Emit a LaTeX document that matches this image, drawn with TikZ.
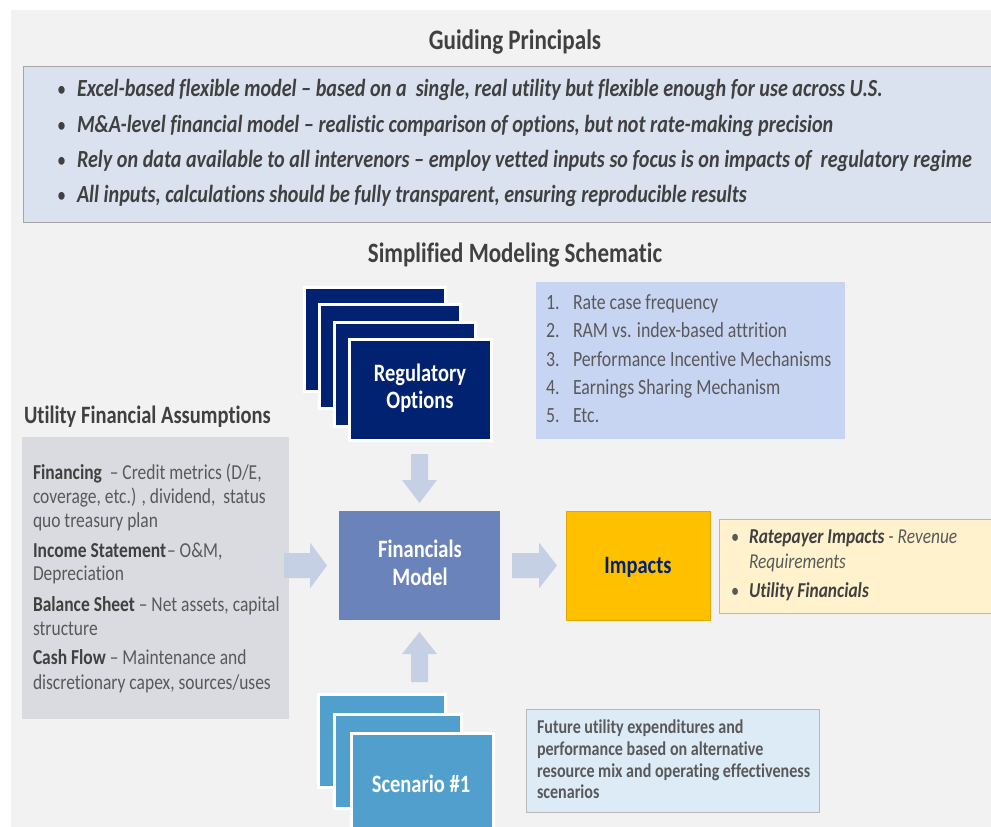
\documentclass[tikz,border=0pt]{standalone}
\usepackage{fontspec}
\setmainfont{Carlito}[FakeStretch=0.82,Ligatures=NoCommon]
\usetikzlibrary{calc}
\definecolor{bgc}{HTML}{F2F2F2}
\definecolor{prinbox}{HTML}{DAE2F0}
\definecolor{boxline}{HTML}{A6A6A6}
\definecolor{txtdark}{HTML}{404040}
\definecolor{txtmid}{HTML}{595959}
\definecolor{navy}{HTML}{002270}
\definecolor{listbox}{HTML}{C7D5F3}
\definecolor{graybox}{HTML}{DADBE0}
\definecolor{arrowc}{HTML}{C5D0E5}
\definecolor{finc}{HTML}{6A83BA}
\definecolor{impc}{HTML}{FFC000}
\definecolor{impline}{HTML}{E0A800}
\definecolor{implist}{HTML}{FFF2CD}
\definecolor{scenc}{HTML}{519FCC}
\definecolor{scendesc}{HTML}{DDEBF7}
\tikzset{
  plainbox/.style={anchor=north west, inner sep=0pt, outer sep=0pt},
  stackcard/.style={anchor=north west, draw=gray!45, line width=0.4pt, double=white, double distance=2.6pt},
  blockarrow/.style={fill=arrowc, draw=none},
  txt/.style={anchor=base west, inner sep=0pt, outer sep=0pt},
  ctxt/.style={anchor=base, inner sep=0pt, outer sep=0pt}
}
\newcommand{\fsz}[1]{\fontsize{#1}{#1}\selectfont}
\begin{document}
\begin{tikzpicture}[x=1pt,y=-1pt]
\useasboundingbox (0,0) rectangle (991,827);
\clip (0,0) rectangle (991,827);
\fill[white] (0,0) rectangle (991,827);
\fill[bgc] (11,10) rectangle (991,827);

% ---------- Guiding principals ----------
\node[ctxt, text=txtdark] (gptitle) at (515,49) {\fsz{28.2}\bfseries Guiding Principals};
\node[plainbox, fill=prinbox, draw=boxline, line width=0.8pt, minimum width=975, minimum height=156] (pbox) at (23,66) {};
\foreach \yy/\tt [count=\i] in {96/{Excel-based flexible model – based on a\ \ single, real utility but flexible enough for use across U.S.},
  132/{M\&A-level financial model – realistic comparison of options, but not rate-making precision},
  167/{Rely on data available to all intervenors – employ vetted inputs so focus is on impacts of\ \ regulatory regime},
  202/{All inputs, calculations should be fully transparent, ensuring reproducible results}}{
  \node[txt, text=txtdark] (pb\i) at (57,\yy) {\fsz{22}\textbullet};
  \node[txt, text=txtdark] (pt\i) at (77,\yy) {\fsz{24.6}\bfseries\itshape \tt};
}

% ---------- Schematic title ----------
\node[ctxt, text=txtdark] (smtitle) at (515,262) {\fsz{28}\bfseries Simplified Modeling Schematic};

% ---------- Regulatory options stack ----------
\node[stackcard, fill=navy, minimum width=141, minimum height=104] (ro1) at (304,287) {};
\node[stackcard, fill=navy, minimum width=141, minimum height=104] (ro2) at (319,304) {};
\node[stackcard, fill=navy, minimum width=141, minimum height=104] (ro3) at (334,322) {};
\node[stackcard, fill=navy, minimum width=142, minimum height=101] (ro4) at (349,339) {};
\node[ctxt, text=white] (rot1) at (420,381) {\fsz{25}\bfseries Regulatory};
\node[ctxt, text=white] (rot2) at (420,408) {\fsz{25}\bfseries Options};

% ---------- numbered list ----------
\node[plainbox, fill=listbox, minimum width=309, minimum height=157] (lbox) at (536,282) {};
\foreach \yy/\nn/\tt in {309/1./Rate case frequency, 337/2./RAM vs. index-based attrition, 366/3./Performance Incentive Mechanisms, 394/4./Earnings Sharing Mechanism, 422/5./Etc.}{
  \node[txt, text=txtmid] at (546,\yy) {\fsz{21.7}\nn};
  \node[txt, text=txtmid] at (573,\yy) {\fsz{21.7}\tt};
}

% ---------- Utility financial assumptions ----------
\node[txt, text=txtdark] (ufatitle) at (24,423) {\fsz{25}\bfseries Utility Financial Assumptions};
\node[plainbox, fill=graybox, minimum width=267, minimum height=282] (gbox) at (22,437) {};
\node[txt, text=txtmid] at (33,479) {\fsz{21.3}{\bfseries\color{txtdark}Financing}\ \ – Credit metrics (D/E,};
\node[txt, text=txtmid] at (33,503) {\fsz{21.3}coverage, etc.) , dividend,\ \ status};
\node[txt, text=txtmid] at (33,527) {\fsz{21.3}quo treasury plan};
\node[txt, text=txtmid] at (33,557) {\fsz{21.3}{\bfseries\color{txtdark}Income Statement}\kern1pt– O\&M,};
\node[txt, text=txtmid] at (33,580) {\fsz{21.3}Depreciation};
\node[txt, text=txtmid] at (33,611) {\fsz{21.3}{\bfseries\color{txtdark}Balance Sheet} – Net assets, capital};
\node[txt, text=txtmid] at (33,635) {\fsz{21.3}structure};
\node[txt, text=txtmid] at (33,664) {\fsz{21.3}{\bfseries\color{txtdark}Cash Flow} – Maintenance and};
\node[txt, text=txtmid] at (33,689) {\fsz{21.3}discretionary capex, sources/uses};

% ---------- Financials model ----------
\node[plainbox, fill=finc, minimum width=161, minimum height=109] (fin) at (339,511) {};
\node[ctxt, text=white] (fint1) at (420,557) {\fsz{25}\bfseries Financials};
\node[ctxt, text=white] (fint2) at (420,585) {\fsz{25}\bfseries Model};

% ---------- Impacts ----------
\node[plainbox, fill=impc, draw=impline, line width=0.6pt, minimum width=144, minimum height=109] (imp) at (566,511) {};
\node[ctxt, text=navy] (impt) at (638,573) {\fsz{25}\bfseries Impacts};
\node[plainbox, fill=implist, draw=boxline!80, line width=0.8pt, minimum width=280, minimum height=94] (ilist) at (719,519) {};
\node[txt, text=txtmid] at (731,543) {\fsz{20}\textbullet};
\node[txt, text=txtmid] at (749,543) {\fsz{21.2}\itshape{\bfseries\color{txtdark}Ratepayer Impacts} - Revenue};
\node[txt, text=txtmid] at (749,568) {\fsz{21.2}\itshape Requirements};
\node[txt, text=txtmid] at (731,597) {\fsz{20}\textbullet};
\node[txt, text=txtdark] at (749,597) {\fsz{21.2}\bfseries\itshape Utility Financials};

% ---------- Scenario stack ----------
\node[stackcard, fill=scenc, minimum width=127, minimum height=93] (sc1) at (318,694) {};
\node[stackcard, fill=scenc, minimum width=127, minimum height=94] (sc2) at (334,714) {};
\node[stackcard, fill=scenc, minimum width=142, minimum height=110] (sc3) at (351,733) {};
\node[ctxt, text=white] (sct) at (421,792) {\fsz{25}\bfseries Scenario \#1};
\node[plainbox, fill=scendesc, draw=boxline!80, line width=0.8pt, minimum width=293, minimum height=103] (sdesc) at (526,709) {};
\node[txt, text=txtmid] at (537,733) {\fsz{19.6}\bfseries Future utility expenditures and};
\node[txt, text=txtmid] at (537,755) {\fsz{19.6}\bfseries performance based on alternative};
\node[txt, text=txtmid] at (537,777) {\fsz{19.6}\bfseries resource mix and operating effectiveness};
\node[txt, text=txtmid] at (537,798) {\fsz{19.6}\bfseries scenarios};

% ---------- Block arrows ----------
% left -> financials
\fill[blockarrow] ($(fin.west)+(-55,-12.5)$) -- ($(fin.west)+(-29,-12.5)$) -- ($(fin.west)+(-29,-23)$)
  -- ($(fin.west)+(-12,0)$) -- ($(fin.west)+(-29,23)$) -- ($(fin.west)+(-29,12.5)$) -- ($(fin.west)+(-55,12.5)$) -- cycle;
% financials -> impacts
\fill[blockarrow] ($(fin.east)+(12,-12.5)$) -- ($(fin.east)+(39,-12.5)$) -- ($(fin.east)+(39,-23)$)
  -- ($(fin.east)+(57,0)$) -- ($(fin.east)+(39,23)$) -- ($(fin.east)+(39,12.5)$) -- ($(fin.east)+(12,12.5)$) -- cycle;
% regulatory -> financials (down)
\fill[blockarrow] ($(fin.north)+(-8.5,-57)$) -- ($(fin.north)+(8.5,-57)$) -- ($(fin.north)+(8.5,-31)$) -- ($(fin.north)+(17.5,-31)$)
  -- ($(fin.north)+(0,-8)$) -- ($(fin.north)+(-17.5,-31)$) -- ($(fin.north)+(-8.5,-31)$) -- cycle;
% scenario -> financials (up)
\fill[blockarrow] ($(fin.south)+(-8.5,62)$) -- ($(fin.south)+(8.5,62)$) -- ($(fin.south)+(8.5,34)$) -- ($(fin.south)+(17.5,34)$)
  -- ($(fin.south)+(0,12)$) -- ($(fin.south)+(-17.5,34)$) -- ($(fin.south)+(-8.5,34)$) -- cycle;
\end{tikzpicture}
\end{document}
